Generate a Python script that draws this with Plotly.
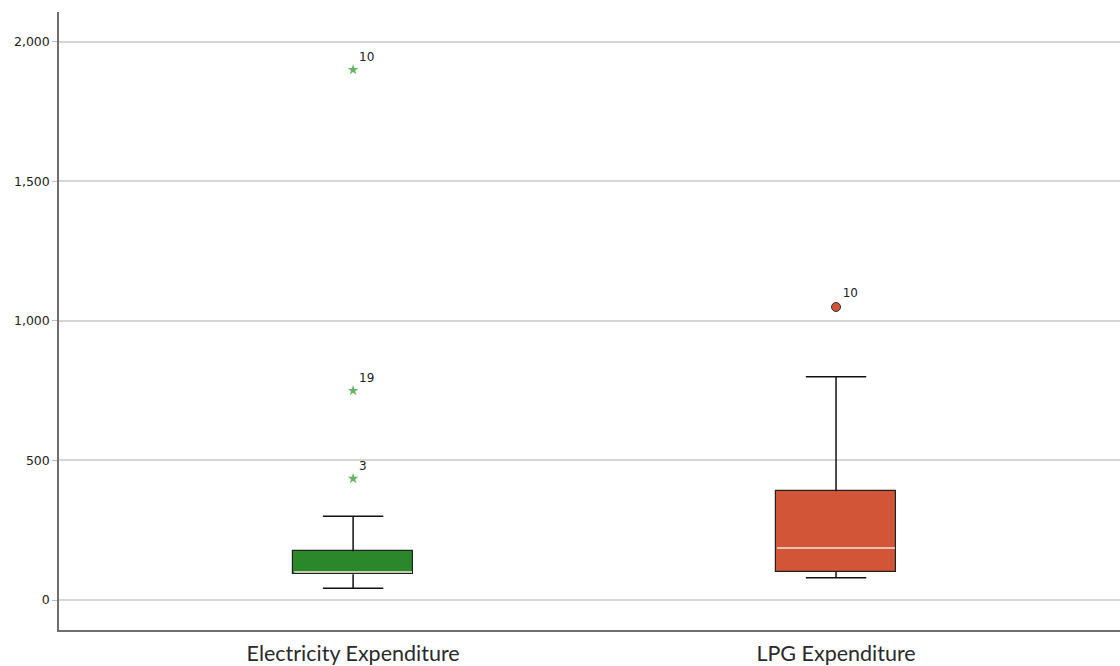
import plotly.graph_objects as go

# Summary statistics per expenditure category
categories = ["Electricity Expenditure", "LPG Expenditure"]
lower_whisker = [42, 80]
q1 = [92, 100]
median = [100, 186]
q3 = [175, 390]
upper_whisker = [300, 800]
box_colors = ["#2a882a", "#d25537"]

# Outlying cases (value, case number)
elec_extreme_values = [1900, 750, 435]
elec_extreme_cases = ["10", "19", "3"]
lpg_outlier_values = [1050]
lpg_outlier_cases = ["10"]

BOX_W = 0.25
CAP_W = BOX_W / 2
xpos = list(range(len(categories)))

fig = go.Figure()

# Boxes (Q1 to Q3)
fig.add_trace(go.Bar(
    x=xpos,
    base=q1,
    y=[b - a for a, b in zip(q1, q3)],
    width=BOX_W,
    marker=dict(color=box_colors, line=dict(color="#222222", width=1.2)),
    hoverinfo="skip",
    showlegend=False,
))

# Whiskers and caps
for i in xpos:
    wx = [i, i, None, i, i, None,
          i - CAP_W / 2, i + CAP_W / 2, None,
          i - CAP_W / 2, i + CAP_W / 2]
    wy = [q3[i], upper_whisker[i], None, q1[i], lower_whisker[i], None,
          upper_whisker[i], upper_whisker[i], None,
          lower_whisker[i], lower_whisker[i]]
    fig.add_trace(go.Scatter(
        x=wx, y=wy, mode="lines",
        line=dict(color="#111111", width=1.5),
        hoverinfo="skip", showlegend=False,
    ))
    # Median line
    fig.add_trace(go.Scatter(
        x=[i - BOX_W / 2 + 0.003, i + BOX_W / 2 - 0.003],
        y=[median[i], median[i]], mode="lines",
        line=dict(color="#f4e6dc", width=1.5),
        hoverinfo="skip", showlegend=False,
    ))

# Extreme values (stars)
fig.add_trace(go.Scatter(
    x=[0] * len(elec_extreme_values),
    y=elec_extreme_values,
    mode="markers+text",
    marker=dict(symbol="star", size=8, color="#63b563"),
    text=elec_extreme_cases,
    textposition="top right",
    textfont=dict(family="DejaVu Sans", size=12, color="#222222"),
    showlegend=False,
))

# Outliers (circles)
fig.add_trace(go.Scatter(
    x=[1] * len(lpg_outlier_values),
    y=lpg_outlier_values,
    mode="markers+text",
    marker=dict(symbol="circle", size=9, color="#d25537",
                line=dict(color="#333333", width=1)),
    text=lpg_outlier_cases,
    textposition="top right",
    textfont=dict(family="DejaVu Sans", size=12, color="#222222"),
    showlegend=False,
))

fig.update_layout(
    width=1120, height=666,
    margin=dict(l=59, r=0, t=12, b=36),
    plot_bgcolor="white", paper_bgcolor="white",
    bargap=0,
)

fig.update_xaxes(
    range=[-0.609, 1.588],
    tickvals=xpos, ticktext=categories,
    tickfont=dict(family="Lato", size=21.5, color="#2a2a2a"),
    ticklabelstandoff=3,
    showgrid=False, zeroline=False,
    showline=True, linecolor="#6e6e6e", linewidth=1.5,
    ticks="",
)
fig.update_yaxes(
    range=[-107.5, 2107],
    tickvals=[0, 500, 1000, 1500, 2000],
    tickformat=",",
    tickfont=dict(family="DejaVu Sans", size=12.5, color="#222222"),
    showgrid=True, gridcolor="#d6d6d6", gridwidth=2,
    zeroline=False,
    showline=True, linecolor="#6e6e6e", linewidth=1.5,
    ticks="outside", ticklen=5, tickcolor="#bbbbbb",
)

fig.write_html("out.html")
